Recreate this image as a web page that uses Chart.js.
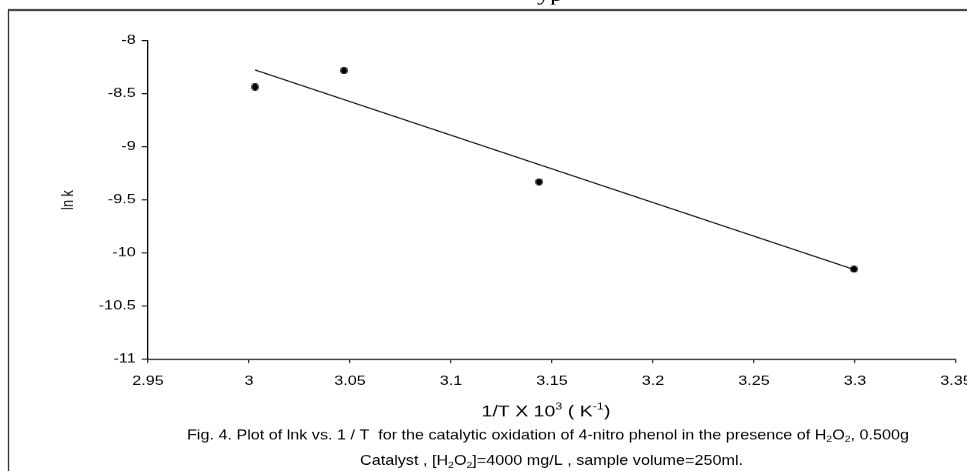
<!DOCTYPE html>
<html>
<head>
<meta charset="utf-8">
<script src="https://cdn.jsdelivr.net/npm/chart.js@4.4.1/dist/chart.umd.min.js"></script>
<style>
  html, body { margin: 0; padding: 0; background: #fff; overflow: hidden; }
  #wrap { position: absolute; left: 0; top: 0; width: 744px; height: 471px; transform-origin: 0 0; }
</style>
</head>
<body>
<div id="wrap"><canvas id="chart"></canvas></div>
<script>
// measured points: 1/T x 10^3 vs ln k
const invT = [3.003, 3.047, 3.1436, 3.2995];
const lnK = [-8.436, -8.282, -9.330, -10.153];

// trend line, end points as drawn in the figure
const fitX = [3.003, 3.2995];
const fitY = [-8.276, -10.155];

const xTicks = [2.95, 3, 3.05, 3.1, 3.15, 3.2, 3.25, 3.3, 3.35];
const xTickLabels = ["2.95", "3", "3.05", "3.1", "3.15", "3.2", "3.25", "3.3", "3.35"];
const yTicks = [-11, -10.5, -10, -9.5, -9, -8.5, -8];
const yTickLabels = ["-11", "-10.5", "-10", "-9.5", "-9", "-8.5", "-8"];

const xTitle = [["1/T X 10", "n"], ["3", "sup"], [" ( K", "n"], ["-1", "sup"], [")", "n"]];
const caption1 = [
  ["Fig. 4. Plot of lnk vs. 1 / T  for the catalytic oxidation of 4-nitro phenol in the presence of H", "n"],
  ["2", "sub"], ["O", "n"], ["2", "sub"], [", 0.500g", "n"]
];
const caption2 = [
  ["Catalyst , [H", "n"], ["2", "sub"], ["O", "n"], ["2", "sub"],
  ["]=4000 mg/L , sample volume=250ml.", "n"]
];

// the figure is horizontally stretched, so draw narrow and scale the page in x
const W = 744;
const SX = 967 / W;
document.getElementById("wrap").style.transform = "scaleX(" + SX + ")";
const sx = (x) => x / SX;

const FONT = '"Liberation Sans", Arial, sans-serif';

// round dot after the x stretch
const dot = document.createElement("canvas");
dot.width = 6;
dot.height = 7;
const dctx = dot.getContext("2d");
dctx.fillStyle = "#000";
dctx.beginPath();
dctx.ellipse(3, 3.5, 2.75, 3.4, 0, 0, Math.PI * 2);
dctx.fill();

// text with sub/superscripts; x1 given -> fit x0..x1, else centre on x0
function drawRich(ctx, segs, x0, x1, baseline, size) {
  const fontFor = (t) => (t === "n" ? size : size * 0.65) + "px " + FONT;
  let total = 0;
  const widths = segs.map(([txt, t]) => {
    ctx.font = fontFor(t);
    const w = ctx.measureText(txt).width;
    total += w;
    return w;
  });
  let k = 1;
  let start = sx(x0) - total / 2;
  if (x1 != null) {
    k = (sx(x1) - sx(x0)) / total;
    start = sx(x0);
  }
  ctx.save();
  ctx.translate(start, baseline);
  ctx.scale(k, 1);
  ctx.fillStyle = "#000";
  ctx.textAlign = "left";
  ctx.textBaseline = "alphabetic";
  let x = 0;
  segs.forEach(([txt, t], i) => {
    ctx.font = fontFor(t);
    const dy = t === "sub" ? size * 0.22 : t === "sup" ? -size * 0.42 : 0;
    ctx.fillText(txt, x, dy);
    x += widths[i];
  });
  ctx.restore();
}

const figureText = {
  id: "figureText",
  afterDraw(chart) {
    const ctx = chart.ctx;
    ctx.save();
    // frame of the figure
    ctx.strokeStyle = "#333";
    ctx.lineWidth = 2;
    ctx.beginPath();
    ctx.moveTo(sx(8), 10);
    ctx.lineTo(W + 2, 10);
    ctx.stroke();
    ctx.lineWidth = 1;
    ctx.beginPath();
    ctx.moveTo(sx(8.5), 10);
    ctx.lineTo(sx(8.5), 475);
    ctx.stroke();

    // cut-off heading above the frame
    ctx.fillStyle = "#000";
    ctx.font = '20px "Liberation Serif", "Times New Roman", serif';
    ctx.textBaseline = "alphabetic";
    ctx.fillText("yp", sx(537), 1);
    ctx.restore();

    drawRich(ctx, xTitle, 546, null, 416, 15);
    drawRich(ctx, caption1, 187, 909, 439, 13.5);
    drawRich(ctx, caption2, 360, 743, 465, 13.5);
  }
};

new Chart(document.getElementById("chart"), {
  type: "scatter",
  data: {
    datasets: [
      {
        data: invT.map((x, i) => ({ x, y: lnK[i] })),
        pointStyle: dot,
        pointRadius: 3,
        backgroundColor: "#000",
        borderColor: "#000",
        showLine: false
      },
      {
        data: fitX.map((x, i) => ({ x, y: fitY[i] })),
        showLine: true,
        pointRadius: 0,
        borderColor: "#000",
        borderWidth: 1
      }
    ]
  },
  options: {
    responsive: true,
    maintainAspectRatio: false,
    devicePixelRatio: SX,
    animation: false,
    events: [],
    layout: {
      autoPadding: false,
      padding: { left: 0, top: 40.7, right: W - sx(956), bottom: 0 }
    },
    plugins: { legend: { display: false }, tooltip: { enabled: false } },
    scales: {
      x: {
        type: "linear",
        min: 2.95,
        max: 3.35,
        afterBuildTicks: (s) => { s.ticks = xTicks.map((v) => ({ value: v })); },
        afterFit: (s) => {
          s.height = 112;
          s.paddingLeft = 0;
          s.paddingRight = 0;
        },
        ticks: {
          callback: (v, i) => xTickLabels[i],
          color: "#000",
          font: { family: FONT, size: 12.5 },
          padding: 11,
          maxRotation: 0,
          autoSkip: false
        },
        grid: { drawOnChartArea: false, drawTicks: true, tickLength: 4, tickColor: "#333" },
        border: { color: "#444", width: 1.5 }
      },
      y: {
        type: "linear",
        min: -11,
        max: -8,
        afterBuildTicks: (s) => { s.ticks = yTicks.map((v) => ({ value: v })); },
        afterFit: (s) => {
          s.width = sx(148);
          s.paddingTop = 0;
          s.paddingBottom = 0;
        },
        ticks: {
          callback: (v, i) => yTickLabels[i],
          color: "#000",
          font: { family: FONT, size: 12.5 },
          padding: 4.6,
          autoSkip: false
        },
        grid: { drawOnChartArea: false, drawTicks: true, tickLength: 4.85, tickColor: "#000" },
        border: { color: "#000", width: 1 },
        title: {
          display: true,
          text: "ln k",
          color: "#000",
          font: { family: FONT, size: 12.5 },
          padding: { top: 45, bottom: 0 }
        }
      }
    }
  },
  plugins: [figureText]
});
</script>
</body>
</html>
